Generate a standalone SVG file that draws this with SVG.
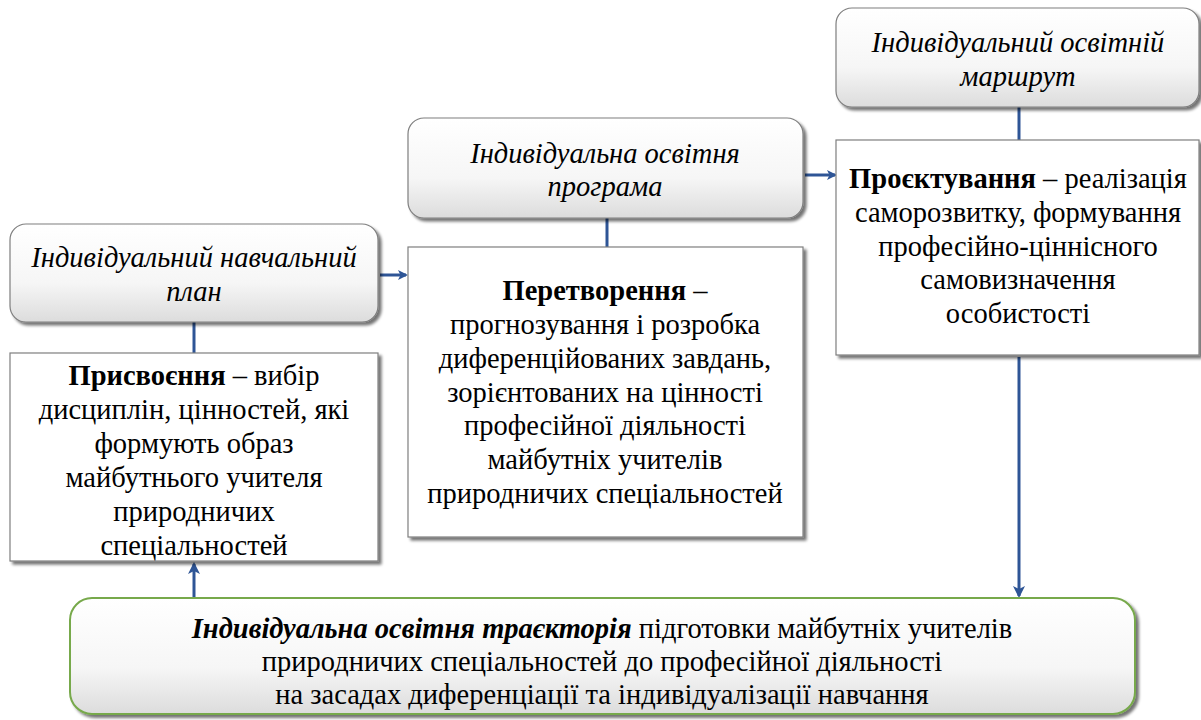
<svg xmlns="http://www.w3.org/2000/svg" width="1201" height="720" viewBox="0 0 1201 720">
<defs>
<linearGradient id="g" x1="0" y1="0" x2="0" y2="1">
<stop offset="0" stop-color="#ffffff"/>
<stop offset="0.6" stop-color="#f6f6f6"/>
<stop offset="1" stop-color="#dcdcdc"/>
</linearGradient>
<filter id="sh" x="-5%" y="-5%" width="112%" height="120%">
<feGaussianBlur in="SourceAlpha" stdDeviation="1.5"/>
<feOffset dx="3" dy="3" result="o"/>
<feComponentTransfer><feFuncA type="linear" slope="0.55"/></feComponentTransfer>
<feMerge><feMergeNode/><feMergeNode in="SourceGraphic"/></feMerge>
</filter>
<marker id="ah" markerWidth="10" markerHeight="10" refX="8" refY="5" orient="auto" markerUnits="userSpaceOnUse">
<path d="M0,0 L10,5 L0,10 L2.5,5 Z" fill="#2E5596"/>
</marker>
<marker id="ah2" markerWidth="12" markerHeight="12" refX="10" refY="6" orient="auto" markerUnits="userSpaceOnUse">
<path d="M0,0 L12,6 L0,12 L3,6 Z" fill="#2E5596"/>
</marker>
</defs>
<style>
.rb{fill:url(#g);stroke:#7f7f7f;stroke-width:1.2;filter:url(#sh)}
.bx{fill:#ffffff;stroke:#7f7f7f;stroke-width:1.2;filter:url(#sh)}
.gb{fill:url(#g);stroke:#77A94B;stroke-width:2;filter:url(#sh)}
text{font-family:"Liberation Serif","Times New Roman",serif;font-size:28.5px;fill:#000;text-anchor:middle}
.it{font-style:italic}
.b{font-weight:bold}
.ln{stroke:#2E5596;stroke-width:3;fill:none}
</style>
<g id="connectors">
<line class="ln" x1="194" y1="322" x2="194" y2="353"/>
<line class="ln" x1="607" y1="218" x2="607" y2="247"/>
<line class="ln" x1="1019" y1="107" x2="1019" y2="140"/>
<line class="ln" x1="380" y1="275" x2="406" y2="275" marker-end="url(#ah)"/>
<line class="ln" x1="805" y1="175" x2="835" y2="175" marker-end="url(#ah)"/>
<line class="ln" x1="1019" y1="357" x2="1019" y2="596" marker-end="url(#ah2)"/>
<line class="ln" x1="194" y1="598" x2="194" y2="564" marker-end="url(#ah2)"/>
</g>
<g id="plan">
<rect class="rb" x="10" y="224" width="368" height="98" rx="16"/>
<text class="it" x="194" y="267">Індивідуальний навчальний</text>
<text class="it" x="194" y="301">план</text>
</g>
<g id="prysvoiennia">
<rect class="bx" x="10" y="353" width="368" height="208"/>
<text x="194" y="385"><tspan class="b">Присвоєння</tspan> – вибір</text>
<text x="194" y="419">дисциплін, цінностей, які</text>
<text x="194" y="453">формують образ</text>
<text x="194" y="487">майбутнього учителя</text>
<text x="194" y="521">природничих</text>
<text x="194" y="555">спеціальностей</text>
</g>
<g id="programa">
<rect class="rb" x="408" y="118" width="395" height="100" rx="16"/>
<text class="it" x="605" y="163">Індивідуальна освітня</text>
<text class="it" x="605" y="196">програма</text>
</g>
<g id="peretvorennia">
<rect class="bx" x="408" y="247" width="395" height="290"/>
<text x="605" y="300"><tspan class="b">Перетворення</tspan> –</text>
<text x="605" y="334">прогнозування і розробка</text>
<text x="605" y="368">диференційованих завдань,</text>
<text x="605" y="402">зорієнтованих на цінності</text>
<text x="605" y="435">професійної діяльності</text>
<text x="605" y="469">майбутніх учителів</text>
<text x="605" y="503">природничих спеціальностей</text>
</g>
<g id="marshrut">
<rect class="rb" x="836" y="8" width="363" height="99" rx="16"/>
<text class="it" x="1018" y="52">Індивідуальний освітній</text>
<text class="it" x="1018" y="86">маршрут</text>
</g>
<g id="proiektuvannia">
<rect class="bx" x="836" y="140" width="363" height="215"/>
<text x="1018" y="188"><tspan class="b">Проєктування</tspan> – реалізація</text>
<text x="1018" y="222">саморозвитку, формування</text>
<text x="1018" y="256">професійно-ціннісного</text>
<text x="1018" y="289">самовизначення</text>
<text x="1018" y="323">особистості</text>
</g>
<g id="traiektoriia">
<rect class="gb" x="70" y="598" width="1065" height="116" rx="22"/>
<text x="602" y="638"><tspan class="b it">Індивідуальна освітня траєкторія</tspan> підготовки майбутніх учителів</text>
<text x="602" y="671">природничих спеціальностей до професійної діяльності</text>
<text x="602" y="704">на засадах диференціації та індивідуалізації навчання</text>
</g>
</svg>
